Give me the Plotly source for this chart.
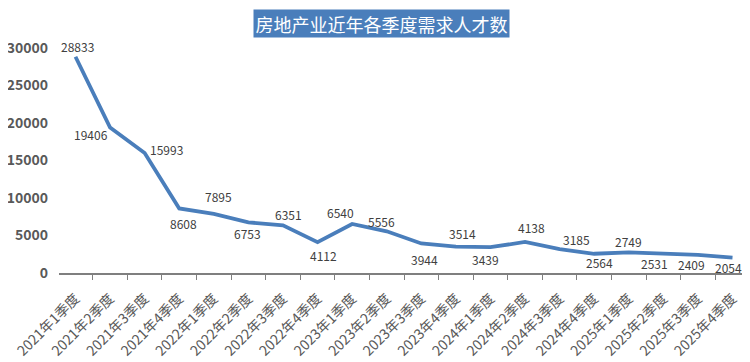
import plotly.graph_objects as go

categories = ["2021年1季度", "2021年2季度", "2021年3季度", "2021年4季度",
              "2022年1季度", "2022年2季度", "2022年3季度", "2022年4季度",
              "2023年1季度", "2023年2季度", "2023年3季度", "2023年4季度",
              "2024年1季度", "2024年2季度", "2024年3季度", "2024年4季度",
              "2025年1季度", "2025年2季度", "2025年3季度", "2025年4季度"]
values = [28833, 19406, 15993, 8608, 7895, 6753, 6351, 4112, 6540, 5556,
          3944, 3514, 3439, 4138, 3185, 2564, 2749, 2531, 2409, 2054]
y_ticks = [0, 5000, 10000, 15000, 20000, 25000, 30000]
y_tick_labels = ["0", "5000", "10000", "15000", "20000", "25000", "30000"]
title_text = "房地产业近年各季度需求人才数"

# label offsets in pixels (dx, dy)
label_dx = [2, -19, 22, 4, 5, -1, 6, 6, -12, -5, 3, 7, -5, 6, 17, 5, 0, -9, -6, -4]
label_dy = [10, -7, 4, -15, 17, -11, 11, -13, 11, 10, -16, 13, -12, 14, 10, -9, 11, -9, -10, -10]

FONT = "Noto Sans CJK SC"

fig = go.Figure()
fig.add_trace(go.Scatter(
    x=categories, y=values, mode="lines",
    line=dict(color="#4a7ebb", width=3.8),
    hoverinfo="skip", showlegend=False, cliponaxis=False,
))

for c, v, dx, dy in zip(categories, values, label_dx, label_dy):
    fig.add_annotation(x=c, y=v, text=str(v), showarrow=False,
                       xshift=dx, yshift=dy,
                       font=dict(family=FONT, size=12, color="#404040"))

fig.add_annotation(xref="paper", yref="paper", x=0.4715, y=1.109,
                   xanchor="center", yanchor="middle",
                   text=title_text, showarrow=False,
                   bgcolor="#4a7ebb", width=253, height=25, borderpad=1,
                   font=dict(family=FONT, size=18, color="white"))

fig.update_layout(
    width=742, height=354,
    margin=dict(l=51, r=6, t=40, b=89, autoexpand=False),
    paper_bgcolor="white", plot_bgcolor="white",
    font=dict(family=FONT),
)
fig.update_xaxes(
    type="category", tickangle=-45, tickson="boundaries",
    ticks="outside", ticklen=5, tickcolor="#7f7f7f",
    showline=True, linecolor="#7f7f7f", linewidth=1.5,
    showgrid=False, automargin=False, ticklabelstandoff=10,
    tickfont=dict(family=FONT, size=14, color="#595959"),
)
fig.update_yaxes(
    range=[0, 30000], tickvals=y_ticks, ticktext=y_tick_labels,
    showgrid=False, zeroline=False, automargin=False,
    showline=False, ticks="", ticklabelstandoff=10,
    tickfont=dict(family=FONT, size=14, color="#595959", weight="bold"),
)

fig.write_html("out.html")
